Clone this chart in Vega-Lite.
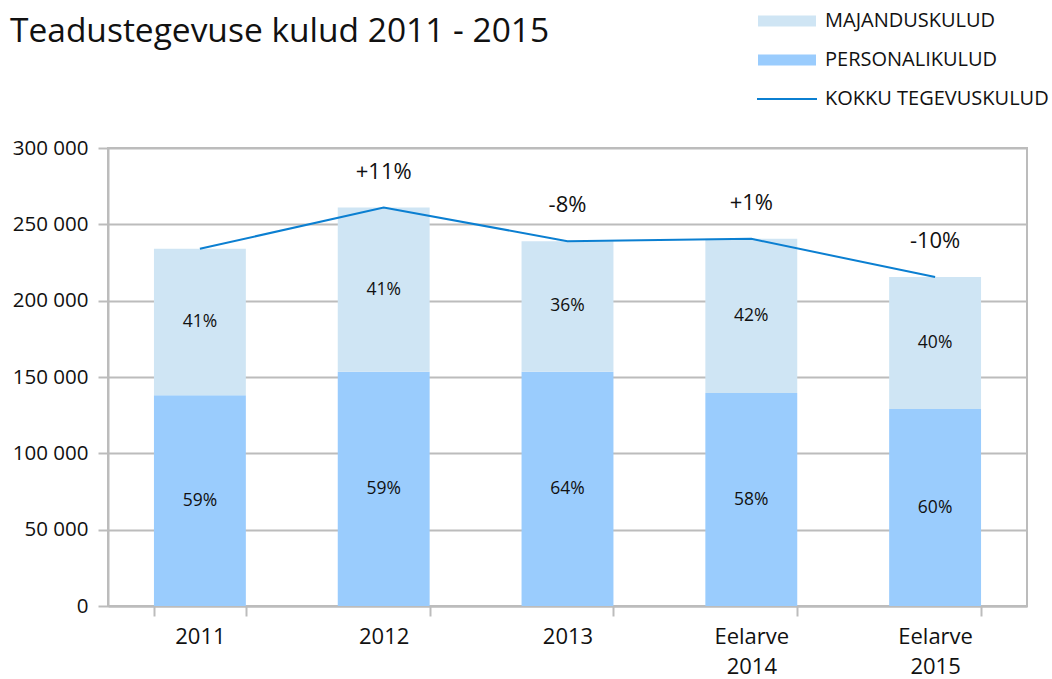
{
  "$schema": "https://vega.github.io/schema/vega-lite/v6.json",
  "width": 919,
  "height": 458,
  "autosize": {"type": "none"},
  "padding": {"left": 108, "top": 148, "right": 25, "bottom": 73},
  "background": "white",
  "title": {
    "text": "Teadustegevuse kulud 2011 - 2015",
    "anchor": "start",
    "frame": "group",
    "dx": -98,
    "dy": 42,
    "font": "Open Sans",
    "fontSize": 33.5,
    "fontWeight": "normal",
    "color": "#111111"
  },
  "config": {
    "locale": {"number": {"decimal": ",", "thousands": " ", "grouping": [3], "currency": ["", ""]}},
    "view": {"stroke": "#bcbcbc", "strokeWidth": 2},
    "font": "Open Sans",
    "axis": {
      "labelFont": "Open Sans",
      "labelColor": "#111111",
      "domainColor": "#bcbcbc",
      "domainWidth": 2,
      "tickColor": "#bcbcbc",
      "tickWidth": 2,
      "gridColor": "#bcbcbc",
      "gridWidth": 2,
      "title": null
    }
  },
  "datasets": {
    "parts": [
      {"year": "2011", "type": "PERSONALIKULUD", "value": 138000, "pct": "59%"},
      {"year": "2011", "type": "MAJANDUSKULUD", "value": 96000, "pct": "41%"},
      {"year": "2012", "type": "PERSONALIKULUD", "value": 153500, "pct": "59%"},
      {"year": "2012", "type": "MAJANDUSKULUD", "value": 107500, "pct": "41%"},
      {"year": "2013", "type": "PERSONALIKULUD", "value": 153500, "pct": "64%"},
      {"year": "2013", "type": "MAJANDUSKULUD", "value": 85500, "pct": "36%"},
      {"year": "Eelarve 2014", "type": "PERSONALIKULUD", "value": 139500, "pct": "58%"},
      {"year": "Eelarve 2014", "type": "MAJANDUSKULUD", "value": 101000, "pct": "42%"},
      {"year": "Eelarve 2015", "type": "PERSONALIKULUD", "value": 129000, "pct": "60%"},
      {"year": "Eelarve 2015", "type": "MAJANDUSKULUD", "value": 86500, "pct": "40%"}
    ],
    "totals": [
      {"year": "2011", "total": 234000, "change": ""},
      {"year": "2012", "total": 261000, "change": "+11%"},
      {"year": "2013", "total": 239000, "change": "-8%"},
      {"year": "Eelarve 2014", "total": 240500, "change": "+1%"},
      {"year": "Eelarve 2015", "total": 215500, "change": "-10%"}
    ]
  },
  "encoding": {
    "x": {
      "field": "year",
      "type": "nominal",
      "sort": null,
      "scale": {"paddingInner": 0.5, "paddingOuter": 0.25},
      "axis": {
        "labelAngle": 0,
        "labelFontSize": 22,
        "labelPadding": 10,
        "labelLineHeight": 30,
        "labelBaseline": "top",
        "tickSize": 10,
        "tickBand": "extent",
        "labelExpr": "split(datum.label, ' ')"
      }
    }
  },
  "layer": [
    {
      "data": {"name": "parts"},
      "mark": {"type": "bar"},
      "encoding": {
        "y": {
          "field": "value",
          "type": "quantitative",
          "stack": "zero",
          "scale": {"domain": [0, 300000]},
          "axis": {
            "values": [0, 50000, 100000, 150000, 200000, 250000, 300000],
            "format": ",d",
            "labelFontSize": 20.5,
            "tickSize": 10,
            "labelPadding": 10,
            "grid": true
          }
        },
        "order": {"field": "type", "sort": "descending"},
        "color": {
          "field": "type",
          "type": "nominal",
          "scale": {
            "domain": ["MAJANDUSKULUD", "PERSONALIKULUD", "KOKKU TEGEVUSKULUD"],
            "range": ["#cfe5f4", "#9accfd", "#0b7fd1"]
          },
          "legend": {
            "orient": "none",
            "legendX": 669,
            "legendY": -137,
            "title": null,
            "padding": 0,
            "symbolSize": 400,
            "labelOffset": 28,
            "labelFont": "Open Sans",
            "labelFontSize": 20,
            "labelColor": "#111111",
            "rowPadding": 19,
            "labelLimit": 400,
            "encode": {
              "symbols": {
                "update": {
                  "shape": {"signal": "datum.value === 'KOKKU TEGEVUSKULUD' ? 'M-3,-0.1H3V0.1H-3Z' : 'M-2.9,-0.55H2.9V0.55H-2.9Z'"},
                  "fill": {"scale": "color", "field": "value"},
                  "strokeWidth": {"value": 0},
                  "opacity": {"value": 1},
                  "fillOpacity": {"value": 1}
                }
              }
            }
          }
        }
      }
    },
    {
      "data": {"name": "parts"},
      "mark": {"type": "text", "fontSize": 17.5, "color": "#111111", "baseline": "middle"},
      "encoding": {
        "y": {"field": "value", "type": "quantitative", "stack": "zero", "bandPosition": 0.5},
        "order": {"field": "type", "sort": "descending"},
        "text": {"field": "pct"}
      }
    },
    {
      "data": {"name": "totals"},
      "mark": {"type": "line", "strokeWidth": 2},
      "encoding": {
        "y": {"field": "total", "type": "quantitative"},
        "color": {"datum": "KOKKU TEGEVUSKULUD"}
      }
    },
    {
      "data": {"name": "totals"},
      "mark": {"type": "text", "fontSize": 22, "color": "#111111", "baseline": "middle", "dy": -36},
      "encoding": {
        "y": {"field": "total", "type": "quantitative"},
        "text": {"field": "change"}
      }
    }
  ]
}
